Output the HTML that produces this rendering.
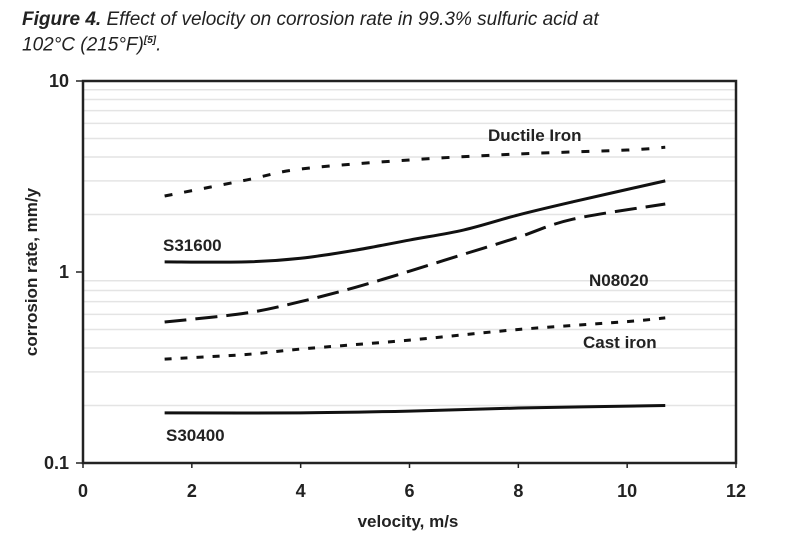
<!DOCTYPE html>
<html><head><meta charset="utf-8"><style>
body{margin:0;background:#fff;font-family:"Liberation Sans",sans-serif}
.cap{position:absolute;left:22px;top:9px;font-size:19px;font-style:italic;line-height:21px;color:#222;transform:scaleX(1.0);transform-origin:0 0;width:780px;white-space:nowrap}
</style></head><body>
<div class="cap"><b>Figure 4.</b> Effect of velocity on corrosion rate in 99.3% sulfuric acid at<br>102°C (215°F)<sup style="font-size:10px;font-weight:bold">[5]</sup>.</div>
<svg id="c" width="799" height="542" style="position:absolute;left:0;top:0"></svg>
<script>
const xTicks=[0,2,4,6,8,10,12];
const yTicks=[0.1,1,10];
const ductileX=[1.5,3,4,6,8,10,10.7], ductileY=[2.5,3.03,3.46,3.86,4.15,4.35,4.5];
const s316X=[1.5,3,4,5,6,7,8,9,10.7], s316Y=[1.13,1.13,1.18,1.3,1.47,1.66,1.99,2.33,3.0];
const n08X=[1.5,3,4,5,6,7,8,9,10.7], n08Y=[0.547,0.61,0.7,0.83,1.01,1.24,1.52,1.89,2.27];
const castX=[1.5,3,4,6,8,10,10.7], castY=[0.35,0.37,0.395,0.44,0.5,0.55,0.575];
const s304X=[1.5,4,6,8,10.7], s304Y=[0.183,0.183,0.187,0.194,0.2];
const L=83,R=736,T=81,B=463;
const sx=v=>L+(v-0)/12*(R-L);
const sy=v=>B-(Math.log10(v)+1)/2*(B-T);
const svg=document.getElementById('c');const NS='http://www.w3.org/2000/svg';
function el(t,a,p){const e=document.createElementNS(NS,t);for(const k in a)e.setAttribute(k,a[k]);(p||svg).appendChild(e);return e;}
for(let d=0.1;d<10;d*=10)for(let m=2;m<=9;m++){const g=el('line',{x1:L,x2:R,y1:sy(d*m),y2:sy(d*m),stroke:'#e4e4e4','stroke-width':1.5});}
const f=el('rect',{x:L,y:T,width:R-L,height:B-T,fill:'none',stroke:'#222','stroke-width':2.5});

xTicks.forEach(v=>{el('line',{x1:sx(v),x2:sx(v),y1:B,y2:B+5,stroke:'#222','stroke-width':1.5});
const t=el('text',{x:sx(v),y:B+34,'text-anchor':'middle','font-size':18,'font-weight':'bold',fill:'#222'});t.textContent=v;
});
yTicks.forEach(v=>{el('line',{x1:L-7,x2:L,y1:sy(v),y2:sy(v),stroke:'#222','stroke-width':1.5});
const t=el('text',{x:L-14,y:sy(v)+6,'text-anchor':'end','font-size':18,'font-weight':'bold',fill:'#222'});t.textContent=v;
});
function series(xs,ys,dash,name){const P=xs.map((x,i)=>[sx(x),sy(ys[i])]);
let d='M'+P[0][0]+','+P[0][1];
for(let i=0;i<P.length-1;i++){const p0=P[Math.max(0,i-1)],p1=P[i],p2=P[i+1],p3=P[Math.min(P.length-1,i+2)];
d+=' C'+(p1[0]+(p2[0]-p0[0])/6)+','+(p1[1]+(p2[1]-p0[1])/6)+' '+(p2[0]-(p3[0]-p1[0])/6)+','+(p2[1]-(p3[1]-p1[1])/6)+' '+p2[0]+','+p2[1];}
const p=el('path',{d:d,fill:'none',stroke:'#111','stroke-width':3,'stroke-dasharray':dash,'stroke-linejoin':'round'});
}
series(ductileX,ductileY,'8,12','ductile-iron-line');
series(s316X,s316Y,'none','s31600-line');
series(n08X,n08Y,'22,9','n08020-line');
series(castX,castY,'7,9','cast-iron-line');
series(s304X,s304Y,'none','s30400-line');
function lab(x,y,s,name,extra){const t=el('text',Object.assign({x:x,y:y,'font-size':17,'font-weight':'bold',fill:'#222'},extra||{}));t.textContent=s;
}
lab(488,141,'Ductile Iron','ductile-iron-label');
lab(163,251,'S31600','s31600-label');
lab(589,286,'N08020','n08020-label');
lab(583,348,'Cast iron','cast-iron-label');
lab(166,441,'S30400','s30400-label');
lab(408,527,'velocity, m/s','x-axis-title',{'text-anchor':'middle'});
lab(0,0,'corrosion rate, mm/y','y-axis-title',{'text-anchor':'middle',transform:'translate(37,272) rotate(-90)'});
</script>
</body></html>
